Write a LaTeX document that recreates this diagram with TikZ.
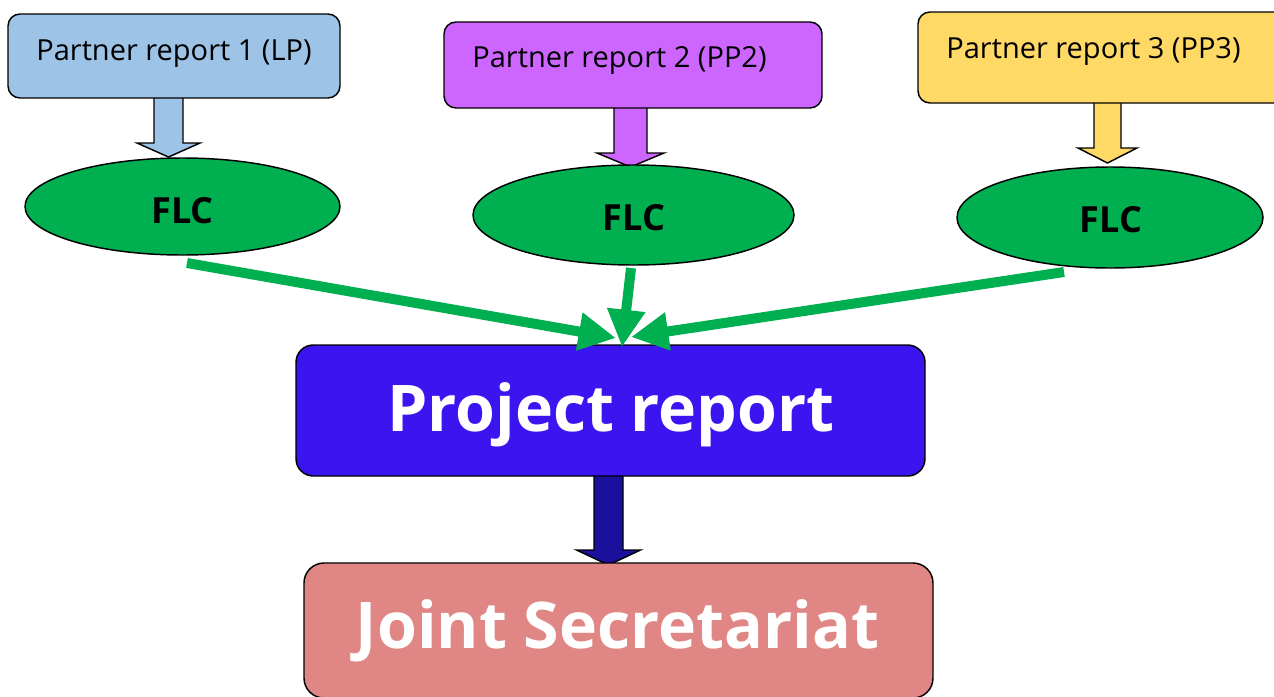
\documentclass[tikz,border=0pt]{standalone}
\usepackage{fontspec}
\setmainfont{Open Sans}
\usetikzlibrary{shapes.geometric,arrows.meta,calc}
\definecolor{cbox1}{HTML}{9DC3E6}
\definecolor{cbox2}{HTML}{CC66FF}
\definecolor{cbox3}{HTML}{FFD966}
\definecolor{cgreen}{HTML}{00B050}
\definecolor{cproj}{HTML}{3C14F0}
\definecolor{cdark}{HTML}{1B0F9E}
\definecolor{cjoint}{HTML}{E08785}
\newcommand\blockarr[6]{% start, tip, half shaft, half head, head length, colour
  \draw[line width=1.1pt,fill=#6,line join=miter]
    ($(#1)+(-#3,0)$) -- ($(#2)+(-#3,-#5)$) -- ($(#2)+(-#4,-#5)$) -- (#2)
    -- ($(#2)+(#4,-#5)$) -- ($(#2)+(#3,-#5)$) -- ($(#1)+(#3,0)$) -- cycle;}
\tikzset{
  pbox/.style={draw=black,line width=1.1pt,rounded corners=9pt,inner sep=0pt},
  flc/.style={ellipse,draw=black,line width=1.1pt,fill=cgreen,inner sep=0pt},
  ptext/.style={anchor=base,inner sep=0pt,font=\fontsize{21.75pt}{26pt}\selectfont},
  ftext/.style={anchor=base,inner sep=0pt,font=\fontsize{27pt}{32pt}\selectfont\bfseries},
  btext/.style={anchor=base,inner sep=0pt,text=white,font=\fontsize{48.3pt}{58pt}\selectfont\bfseries},
  garrow/.style={draw=cgreen,line width=7.5pt,-{Triangle[length=28pt,width=27pt]}}
}
\begin{document}
\begin{tikzpicture}[x=0.75pt,y=-0.75pt]
\useasboundingbox (0,0) rectangle (1274,696);
\clip (0,0) rectangle (1274,696);
% block arrows
\coordinate (a1s) at (168.5,97);  \coordinate (a1t) at (168.5,157);
\coordinate (a2s) at (630.5,106); \coordinate (a2t) at (630.5,167);
\coordinate (a3s) at (1107.5,102);\coordinate (a3t) at (1107.5,163);
\coordinate (a4s) at (608.5,475); \coordinate (a4t) at (608.5,565);
\blockarr{a1s}{a1t}{14.5}{31.5}{14}{cbox1}
\blockarr{a2s}{a2t}{16.5}{33.5}{14}{cbox2}
\blockarr{a3s}{a3t}{13.5}{29.5}{15}{cbox3}
\blockarr{a4s}{a4t}{14.5}{32}{15}{cdark}
% partner boxes
\node[pbox,fill=cbox1,minimum width=249pt,minimum height=63pt] (b1) at (174,56) {};
\node[pbox,fill=cbox2,minimum width=283.5pt,minimum height=64.5pt] (b2) at (633,65) {};
\node[pbox,fill=cbox3,minimum width=286.5pt,minimum height=68.25pt] (b3) at (1109,57.5) {};
\node[ptext] (t1) at (174,60) {Partner report 1 (LP)};
\node[ptext] (t2) at (619.5,67) {Partner report 2 (PP2)};
\node[ptext] (t3) at (1093.5,58) {Partner report 3 (PP3)};
% FLC ellipses
\node[flc,minimum width=236.25pt,minimum height=72.75pt] (e1) at (182.5,206.5) {};
\node[flc,minimum width=240.75pt,minimum height=75pt] (e2) at (633.5,215) {};
\node[flc,minimum width=229.5pt,minimum height=75.75pt] (e3) at (1110,217.5) {};
\node[ftext] (f1) at (182.5,223) {FLC};
\node[ftext] (f2) at (634,230) {FLC};
\node[ftext] (f3) at (1111,232) {FLC};
% main boxes
\node[pbox,rounded corners=13pt,fill=cproj,minimum width=471.75pt,minimum height=98.25pt] (pr) at (610.5,410.5) {};
\node[pbox,rounded corners=15pt,fill=cjoint,minimum width=471.75pt,minimum height=101.25pt] (js) at (618.5,630.5) {};
\node[btext] (prt) at (611,431) {Project report};
\node[btext] (jst) at (617.5,648) {Joint Secretariat};
% green arrows
\coordinate (g1s) at (187,263);  \coordinate (g1t) at (616,338);
\coordinate (g2s) at (631,268);  \coordinate (g2t) at (622,347);
\coordinate (g3s) at (1064,272); \coordinate (g3t) at (631,337);
\draw[garrow] (g1s) -- (g1t);
\draw[garrow] (g3s) -- (g3t);
\draw[garrow] (g2s) -- (g2t);
\end{tikzpicture}
\end{document}
